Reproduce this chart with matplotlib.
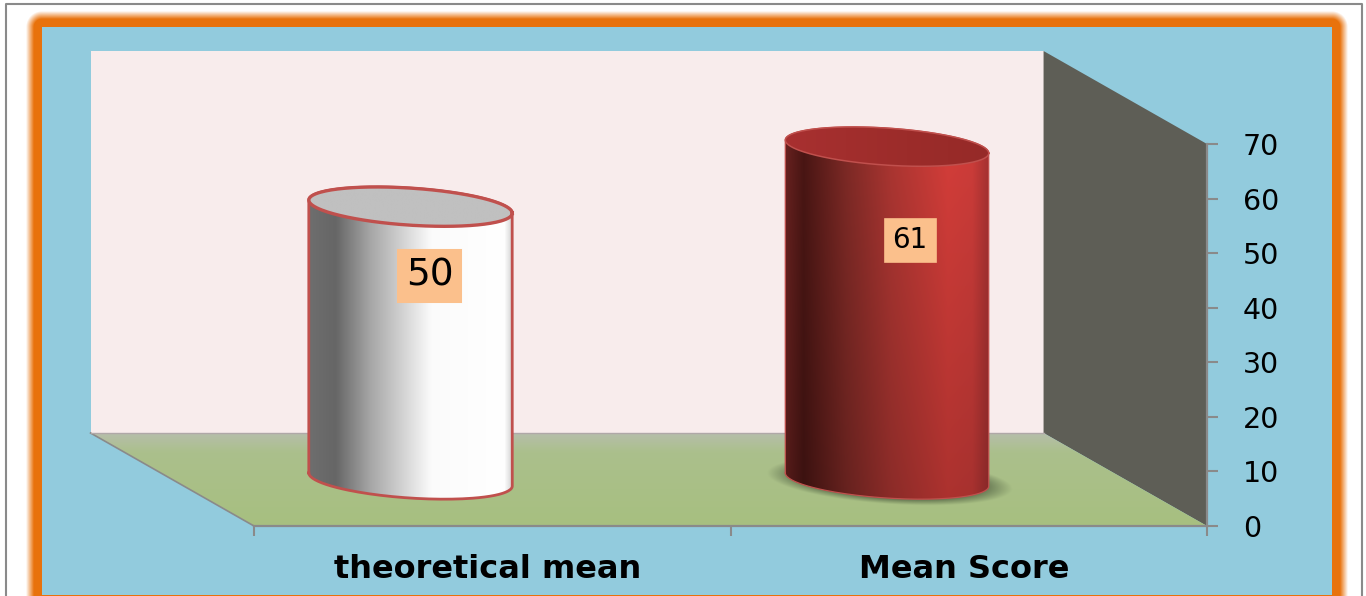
import numpy as np
import matplotlib
matplotlib.use("Agg")
import matplotlib.pyplot as plt
from matplotlib.colors import LinearSegmentedColormap, to_rgb
from matplotlib.patches import PathPatch, Polygon
from matplotlib.path import Path

categories = ["theoretical mean", "Mean Score"]
values = [50, 61]
y_ticks = [0, 10, 20, 30, 40, 50, 60, 70]

W, H = 1366, 596
plt.rcParams["font.family"] = ["DejaVu Sans"]
fig = plt.figure(figsize=(W / 100, H / 100), dpi=100)

# ---------- page background: frame, glowing orange border, blue panel ----------
bg = fig.add_axes([0, 0, 1, 1])
bg.set_xlim(0, W)
bg.set_ylim(H, 0)
bg.axis("off")
xx, yy = np.meshgrid(np.arange(W) + 0.5, np.arange(H) + 0.5)
ddx = np.maximum(np.maximum(42 - xx, xx - 1332), 0)
ddy = np.maximum(np.maximum(27 - yy, yy - 595), 0)
dist = np.hypot(ddx, ddy)
fade = np.clip((dist - 8) / 8, 0, 1)[..., None]
orange = np.array(to_rgb("#E8720C"))
blue = np.array(to_rgb("#92CBDD"))
img = orange * (1 - fade) + np.ones(3) * fade
img[dist == 0] = blue
bg.imshow(img, extent=(0, W, H, 0), aspect="auto", interpolation="nearest", zorder=0)
bg.plot([6, 6, 1362, 1362], [H, 4, 4, H], color="#8a8a8a", lw=1.5, zorder=1)
bg.set_xlim(0, W)
bg.set_ylim(H, 0)

# ---------- chart axes: front plane of the 3-D box ----------
ax = fig.add_axes([254 / W, (H - 526) / H, 953 / W, 382 / H], zorder=2)
ax.patch.set_visible(False)
ax.set_xlim(0, 2)
ax.set_ylim(0, 70)
ax.set_autoscale_on(False)
xmax, ymax = 2, 70
depth_x, depth_y = -0.343, 17.04
half_w, ell_b, ell_tilt = 0.2135, 3.4, -1.2


def hgrad(stops, n=256):
    return LinearSegmentedColormap.from_list("g", stops, N=n)


def clipped_image(rgb, extent, poly, zorder):
    im = ax.imshow(rgb, extent=extent, origin="lower", aspect="auto",
                   interpolation="bilinear", zorder=zorder)
    patch = PathPatch(poly, transform=ax.transData, fc="none", ec="none")
    ax.add_patch(patch)
    patch.set_clip_on(False)
    im.set_clip_path(patch)
    im.set_clip_box(fig.bbox)
    return im


# walls
ax.add_patch(Polygon([(depth_x, depth_y), (xmax + depth_x, depth_y),
                      (xmax + depth_x, ymax + depth_y), (depth_x, ymax + depth_y)],
                     fc="#F8ECEC", ec="none", clip_on=False, zorder=1))
ax.add_patch(Polygon([(xmax + depth_x, depth_y), (xmax, 0), (xmax, ymax),
                      (xmax + depth_x, ymax + depth_y)],
                     fc="#5E5E56", ec="none", clip_on=False, zorder=1))
# floor with gradient
floor_path = Path([(depth_x, depth_y), (xmax + depth_x, depth_y), (xmax, 0), (0, 0), (depth_x, depth_y)])
t = np.linspace(0, 1, 64)[:, None, None]
floor_front, floor_mid, floor_back = map(np.array, map(to_rgb, ["#A7BF80", "#ABC08C", "#B6BEAA"]))
floor_rgb = np.where(t < 0.8, floor_front + (floor_mid - floor_front) * t / 0.8,
                     floor_mid + (floor_back - floor_mid) * (t - 0.8) / 0.2)
clipped_image(floor_rgb, (depth_x, xmax, 0, depth_y), floor_path, 2)
ax.plot([depth_x, 0], [depth_y, 0], color="#8a8a8a", lw=1.2, clip_on=False, zorder=3)
ax.plot([depth_x, xmax + depth_x], [depth_y, depth_y], color="#b0a8a8", lw=1.0, clip_on=False, zorder=3)


def ellipse(cx, cy, t):
    return (cx + half_w * np.cos(t),
            cy + ell_b * np.sin(t) + ell_tilt * np.cos(t))


body_stops = [
    [(0, "#6e6e6e"), (0.13, "#666666"), (0.3, "#a6a6a6"), (0.45, "#d0d0d0"),
     (0.6, "#fbfbfb"), (0.96, "#ffffff"), (1, "#cfcfcf")],
    [(0, "#6a2220"), (0.09, "#4a1614"), (0.3, "#7f2a26"), (0.52, "#ad3632"),
     (0.8, "#d63e3a"), (0.92, "#cf3d3a"), (1, "#a83232")],
]
body_dim = [1.0, 0.80]
cap_stops = [[(0, "#c0c0c0"), (1, "#c0c0c0")],
             [(0, "#a83030"), (0.6, "#9c2c2a"), (1, "#962a28")]]
edge_widths = [2.0, 0.9]
has_shadow = [False, True]
label_boxes = [{"size": 27, "pad": 6.5}, {"size": 20, "pad": 6}]
label_offset_px = [(19, 69), (23, 93)]

for i, (cat, v) in enumerate(zip(categories, values)):
    cx = i + 0.5 + depth_x / 2
    cy = depth_y / 2
    tt = np.linspace(0, 2 * np.pi, 200)

    if has_shadow[i]:
        sx = np.linspace(cx - 0.32, cx + 0.32, 300)
        sy = np.linspace(cy - 8, cy + 8, 120)
        gx, gy = np.meshgrid(sx, sy)
        gy0 = gy - cy + 0.3 - (gx - cx) / half_w * ell_tilt
        r = np.hypot((gx - cx - 0.005) / (half_w * 1.08), gy0 / (ell_b * 1.12))
        alpha = 0.62 * np.clip((1.12 - r) / 0.26, 0, 1)
        rgba = np.zeros(gx.shape + (4,))
        rgba[..., :3] = to_rgb("#3C4A32")
        rgba[..., 3] = alpha
        ax.imshow(rgba, extent=(sx[0], sx[-1], sy[0], sy[-1]), origin="lower",
                  aspect="auto", interpolation="bilinear", zorder=3, clip_on=False)

    # body outline
    lo_t = np.linspace(np.pi, 2 * np.pi, 80)
    bx, by = ellipse(cx, cy, lo_t)
    rx, ry = ellipse(cx, cy + v, np.linspace(0, np.pi, 80))
    verts = np.vstack([np.c_[bx, by], np.c_[rx, ry], [[bx[0], by[0]]]])
    body = Path(verts, closed=True)
    nx, ny = 256, 64
    u = hgrad(body_stops[i], nx)(np.linspace(0, 1, nx))[:, :3]
    dim = np.linspace(body_dim[i], 1.0, ny)[:, None, None]
    rgb = (u[None, :, :] * dim)
    clipped_image(rgb, (cx - half_w, cx + half_w, cy - ell_b - 2, cy + v + ell_b + 2), body, 4)
    ax.plot(verts[:, 0], verts[:, 1], color="#C0504D", lw=edge_widths[i], clip_on=False, zorder=5)

    # top cap
    ex, ey = ellipse(cx, cy + v, tt)
    cap = Path(np.c_[ex, ey], closed=True)
    cu = hgrad(cap_stops[i], nx)(np.linspace(0, 1, nx))[:, :3]
    clipped_image(cu[None, :, :], (cx - half_w, cx + half_w, cy + v - ell_b - 2, cy + v + ell_b + 2), cap, 6)
    ax.plot(ex, ey, color="#C0504D", lw=edge_widths[i] * 1.2, clip_on=False, zorder=7)

    # value label
    ox, oy = label_offset_px[i]
    ax.annotate(str(v), xy=(cx, cy + v), xytext=(ox * 0.72, -oy * 0.72),
                textcoords="offset points", ha="center", va="center",
                fontsize=label_boxes[i]["size"], color="black", zorder=8,
                bbox=dict(boxstyle="square,pad=0", fc="#FBC08C", ec="#FBC08C",
                          lw=label_boxes[i]["pad"] * 2))

# axes furniture
for s in ["top", "left"]:
    ax.spines[s].set_visible(False)
for s in ["right", "bottom"]:
    ax.spines[s].set_color("#8a8a8a")
    ax.spines[s].set_linewidth(1.6)
    ax.spines[s].set_zorder(9)
ax.yaxis.tick_right()
ax.set_yticks(y_ticks)
ax.set_yticklabels([str(v) for v in y_ticks], fontsize=20.5, color="black", ha="left")
ax.tick_params(axis="y", length=8, width=1.5, color="#8a8a8a", pad=18)
ax.set_xticks([0, 1, 2])
ax.set_xticklabels([])
ax.tick_params(axis="x", length=7.5, width=1.5, color="#8a8a8a")
ax.set_xticks([0.49, 1.49], minor=True)
ax.set_xticklabels(categories, minor=True, fontsize=23, fontweight="bold", color="black")
ax.tick_params(axis="x", which="minor", length=0, pad=20)

ax.set_xlim(0, 2)
ax.set_ylim(0, 70)
fig.savefig("out.png", dpi=100)
